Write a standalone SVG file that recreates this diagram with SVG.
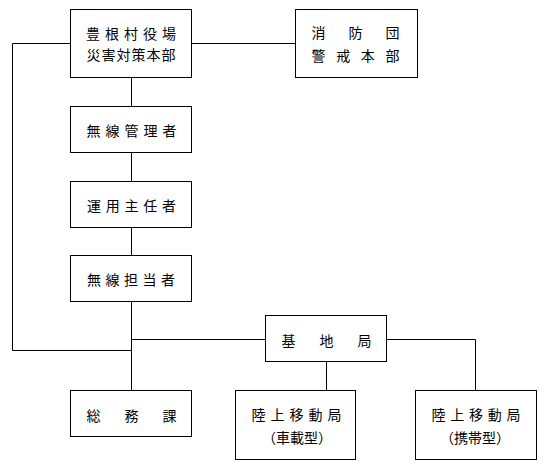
<svg xmlns="http://www.w3.org/2000/svg" width="545" height="467" viewBox="0 0 545 467">
<style>
.box{fill:#fff;stroke:#000;stroke-width:1}
.ln{fill:none;stroke:#000;stroke-width:1}
text{font-family:"Noto Sans CJK JP","Noto Sans CJK SC",sans-serif;font-size:14px;fill:#000;text-anchor:middle;dominant-baseline:central}
</style>
<rect width="545" height="467" fill="#fff"/>
<g id="connectors">
<path class="ln" d="M131.5,77.5V106.5M131.5,152.5V181.5M131.5,227.5V255.5M131.5,301.5V390.5"/>
<path class="ln" d="M191.5,43.5H295.5"/>
<path class="ln" d="M70.5,43.5H12.5V350.5H131.5"/>
<path class="ln" d="M131.5,339.5H265.5"/>
<path class="ln" d="M326.5,361.5V390.5"/>
<path class="ln" d="M386.5,339.5H475.5V390.5"/>
</g>
<g id="hq">
<rect class="box" x="70.5" y="9.5" width="121" height="68"/>
<text x="131" y="32.5" textLength="90" lengthAdjust="spacing">豊根村役場</text>
<text x="131" y="54" textLength="89" lengthAdjust="spacing">災害対策本部</text>
</g>
<g id="fire">
<rect class="box" x="295.5" y="9.5" width="122" height="68"/>
<text x="355.5" y="32" textLength="88" lengthAdjust="spacing">消防団</text>
<text x="355.5" y="54.5" textLength="88" lengthAdjust="spacing">警戒本部</text>
</g>
<g id="kanri">
<rect class="box" x="70.5" y="106.5" width="121" height="46"/>
<text x="131.5" y="129.5" textLength="90" lengthAdjust="spacing">無線管理者</text>
</g>
<g id="unyo">
<rect class="box" x="70.5" y="181.5" width="121" height="46"/>
<text x="131.5" y="204.5" textLength="89" lengthAdjust="spacing">運用主任者</text>
</g>
<g id="tanto">
<rect class="box" x="70.5" y="255.5" width="121" height="46"/>
<text x="131" y="279" textLength="88" lengthAdjust="spacing">無線担当者</text>
</g>
<g id="somu">
<rect class="box" x="70.5" y="390.5" width="121" height="46"/>
<text x="131.5" y="414.5" textLength="90" lengthAdjust="spacing">総務課</text>
</g>
<g id="kichi">
<rect class="box" x="265.5" y="315.5" width="121" height="46"/>
<text x="326.5" y="339.5" textLength="90" lengthAdjust="spacing">基地局</text>
</g>
<g id="shasai">
<rect class="box" x="235.5" y="390.5" width="120" height="69"/>
<text x="296.5" y="414" textLength="90" lengthAdjust="spacing">陸上移動局</text>
<text x="297" y="436.5">（車載型）</text>
</g>
<g id="keitai">
<rect class="box" x="415.5" y="390.5" width="121" height="69"/>
<text x="476" y="414" textLength="89" lengthAdjust="spacing">陸上移動局</text>
<text x="475" y="436.5">（携帯型）</text>
</g>
</svg>
